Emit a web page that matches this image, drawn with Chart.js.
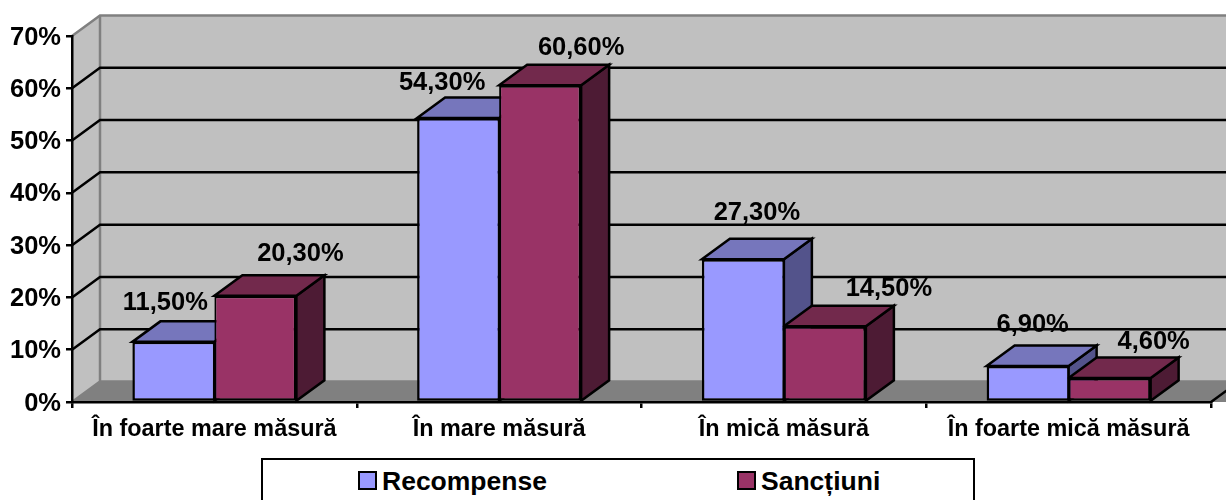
<!DOCTYPE html>
<html>
<head>
<meta charset="utf-8">
<title>Recompense si sanctiuni</title>
<script src="https://cdn.jsdelivr.net/npm/chart.js@4"></script>
<style>
    html, body { margin: 0; padding: 0; width: 1226px; height: 500px; overflow: hidden; background: #fff; }
    #wrap { position: relative; width: 1226px; height: 500px; overflow: hidden; }
    #legendBox { position: absolute; left: 261px; top: 458px; width: 710px; height: 60px; border: 2px solid #000; background: #fff;
        font: bold 26.5px "Liberation Sans", Arial, sans-serif; color: #000; }
    #legendBox .item { position: absolute; top: 0; height: 42px; line-height: 42px; white-space: nowrap; }
    #legendBox .swatch { position: absolute; left: 0; top: 11px; width: 15px; height: 15px; border: 2px solid #000; }
    #legendBox .text { position: absolute; left: 24px; top: 0; }
</style>
</head>
<body>
<div id="wrap">
    <canvas id="chart" width="1226" height="500"></canvas>
    <div id="legendBox"></div>
</div>
<script>
const categories = ['În foarte mare măsură', 'În mare măsură', 'În mică măsură', 'În foarte mică măsură'];
const recompense = [11.5, 54.3, 27.3, 6.9];
const sanctiuni = [20.3, 60.6, 14.5, 4.6];
const yTicks = [0, 10, 20, 30, 40, 50, 60, 70];

const FONT = '"Liberation Sans", Arial, sans-serif';
const DEPTH_X = 28;
const DEPTH_Y = 20.5;
const LINE = 2.5;

// shift of each value label from the middle of its bar top, as placed in the original
const labelShift = [
    [[-8, -39], [-16, -35], [14, -46], [5, -41]],
    [[45, -42], [41, -37], [64, -37], [44, -36]]
];

function poly(ctx, pts, fill, stroke, lw) {
    ctx.beginPath();
    pts.forEach(function(p, i) {
        if (i === 0) ctx.moveTo(p[0], p[1]);
        else ctx.lineTo(p[0], p[1]);
    });
    ctx.closePath();
    if (fill) {
        ctx.fillStyle = fill;
        ctx.fill();
    }
    if (stroke) {
        ctx.strokeStyle = stroke;
        ctx.lineWidth = lw;
        ctx.lineJoin = 'miter';
        ctx.stroke();
    }
}

// Back wall, side wall, floor and the gridlines that run over them
const walls = {
    id: 'walls',
    afterLayout: function(chart) {
        // y labels sit a little lower than the library centres them
        chart.scales.y.getLabelItems().forEach(function(item) {
            item.options.translation[1] += 1.5;
        });
    },
    beforeDraw: function(chart) {
        const ctx = chart.ctx;
        const a = chart.chartArea;
        const yScale = chart.scales.y;
        const endX = chart.width + 40;
        ctx.save();
        poly(ctx, [[a.left + DEPTH_X, a.top - DEPTH_Y], [endX, a.top - DEPTH_Y], [endX, a.bottom - DEPTH_Y], [a.left + DEPTH_X, a.bottom - DEPTH_Y]], '#c0c0c0');
        poly(ctx, [[a.left, a.top], [a.left + DEPTH_X, a.top - DEPTH_Y], [a.left + DEPTH_X, a.bottom - DEPTH_Y], [a.left, a.bottom]], '#c0c0c0');
        poly(ctx, [[a.left, a.bottom], [a.left + DEPTH_X, a.bottom - DEPTH_Y], [endX, a.bottom - DEPTH_Y], [a.right + DEPTH_X, a.bottom], [a.right, a.bottom]], '#808080');

        // grey edges of the walls
        ctx.strokeStyle = '#808080';
        ctx.lineWidth = LINE;
        ctx.beginPath();
        ctx.moveTo(a.left, a.top);
        ctx.lineTo(a.left + DEPTH_X, a.top - DEPTH_Y);
        ctx.lineTo(endX, a.top - DEPTH_Y);
        ctx.moveTo(a.left + DEPTH_X, a.top - DEPTH_Y);
        ctx.lineTo(a.left + DEPTH_X, a.bottom - DEPTH_Y);
        ctx.lineTo(endX, a.bottom - DEPTH_Y);
        ctx.moveTo(a.left + DEPTH_X, a.bottom - DEPTH_Y);
        ctx.lineTo(a.left, a.bottom);
        ctx.stroke();

        // gridlines, skipping the floor and the top edge
        ctx.strokeStyle = '#000';
        ctx.lineWidth = LINE;
        ctx.beginPath();
        yTicks.slice(1, -1).forEach(function(t) {
            const y = yScale.getPixelForValue(t);
            ctx.moveTo(a.left, y);
            ctx.lineTo(a.left + DEPTH_X, y - DEPTH_Y);
            ctx.lineTo(endX, y - DEPTH_Y);
        });
        ctx.moveTo(a.right, a.bottom);
        ctx.lineTo(a.right + DEPTH_X, a.bottom - DEPTH_Y);
        ctx.stroke();
        ctx.restore();
    }
};

// Top and side of each bar; the library draws the front face afterwards
const barDepth = {
    id: 'barDepth',
    beforeDatasetsDraw: function(chart) {
        const ctx = chart.ctx;
        ctx.save();
        categories.forEach(function(c, i) {
            chart.data.datasets.forEach(function(ds, d) {
                const bar = chart.getDatasetMeta(d).data[i];
                const l = bar.x - bar.width / 2;
                const r = bar.x + bar.width / 2;
                const t = bar.y;
                const b = bar.base;
                poly(ctx, [[r, t], [r + DEPTH_X, t - DEPTH_Y], [r + DEPTH_X, b - DEPTH_Y], [r, b]], ds.sideColor, '#000', LINE);
                poly(ctx, [[l, t], [l + DEPTH_X, t - DEPTH_Y], [r + DEPTH_X, t - DEPTH_Y], [r, t]], ds.topColor, '#000', LINE);
            });
        });
        ctx.restore();
    }
};

const valueLabels = {
    id: 'valueLabels',
    afterDatasetsDraw: function(chart) {
        const ctx = chart.ctx;
        ctx.save();
        ctx.font = 'bold 25.5px ' + FONT;
        ctx.fillStyle = '#000';
        ctx.textAlign = 'center';
        ctx.textBaseline = 'middle';
        chart.data.datasets.forEach(function(ds, d) {
            chart.getDatasetMeta(d).data.forEach(function(bar, i) {
                const text = ds.data[i].toFixed(2).replace('.', ',') + '%';
                ctx.fillText(text, bar.x + labelShift[d][i][0], bar.y + labelShift[d][i][1]);
            });
        });
        ctx.restore();
    }
};

const chart = new Chart(document.getElementById('chart'), {
    type: 'bar',
    data: {
        labels: categories,
        datasets: [
            // the seam between the two bars should read as one line, so their inner borders are thinner
            { label: 'Recompense', data: recompense, backgroundColor: '#9999ff', topColor: '#7676bc', sideColor: '#53538b', borderColor: '#000',
              borderWidth: { top: LINE, left: LINE, bottom: LINE, right: 1.5 }, borderSkipped: false },
            { label: 'Sancțiuni', data: sanctiuni, backgroundColor: '#993366', topColor: '#72294c', sideColor: '#4d1b34', borderColor: '#000',
              borderWidth: { top: LINE, left: 2, bottom: LINE, right: LINE }, borderSkipped: false }
        ]
    },
    options: {
        responsive: false,
        animation: false,
        categoryPercentage: 0.576,
        barPercentage: 1,
        layout: { padding: { top: 36, right: 15, left: 0, bottom: 0 } },
        plugins: {
            legend: { display: false },
            tooltip: { enabled: false }
        },
        scales: {
            x: {
                afterFit: function(scale) { scale.height = 98; },
                border: { color: '#000', width: LINE },
                grid: { drawOnChartArea: false, color: '#000', lineWidth: LINE, tickLength: 6 },
                ticks: {
                    color: '#000',
                    maxRotation: 0,
                    autoSkip: false,
                    padding: 8,
                    font: { family: FONT, size: 23.4, weight: 'bold' }
                }
            },
            y: {
                min: 0,
                max: 70,
                afterFit: function(scale) { scale.width = 72; },
                afterBuildTicks: function(scale) {
                    scale.ticks = yTicks.map(function(v) { return { value: v }; });
                },
                border: { color: '#000', width: LINE },
                grid: { drawOnChartArea: false, color: '#000', lineWidth: LINE, tickLength: 6 },
                ticks: {
                    color: '#000',
                    padding: 5,
                    font: { family: FONT, size: 25.5, weight: 'bold' },
                    callback: function(v) { return v + '%'; }
                }
            }
        }
    },
    plugins: [walls, barDepth, valueLabels]
});

// Legend is an html box because the original one runs off the bottom of the picture
const legendLeft = [95, 474];
const legendBox = document.getElementById('legendBox');
chart.data.datasets.forEach(function(ds, i) {
    const item = document.createElement('div');
    item.className = 'item';
    item.style.left = legendLeft[i] + 'px';
    item.innerHTML = '<span class="swatch" style="background:' + ds.backgroundColor + '"></span><span class="text">' + ds.label + '</span>';
    legendBox.appendChild(item);
});
</script>
</body>
</html>
